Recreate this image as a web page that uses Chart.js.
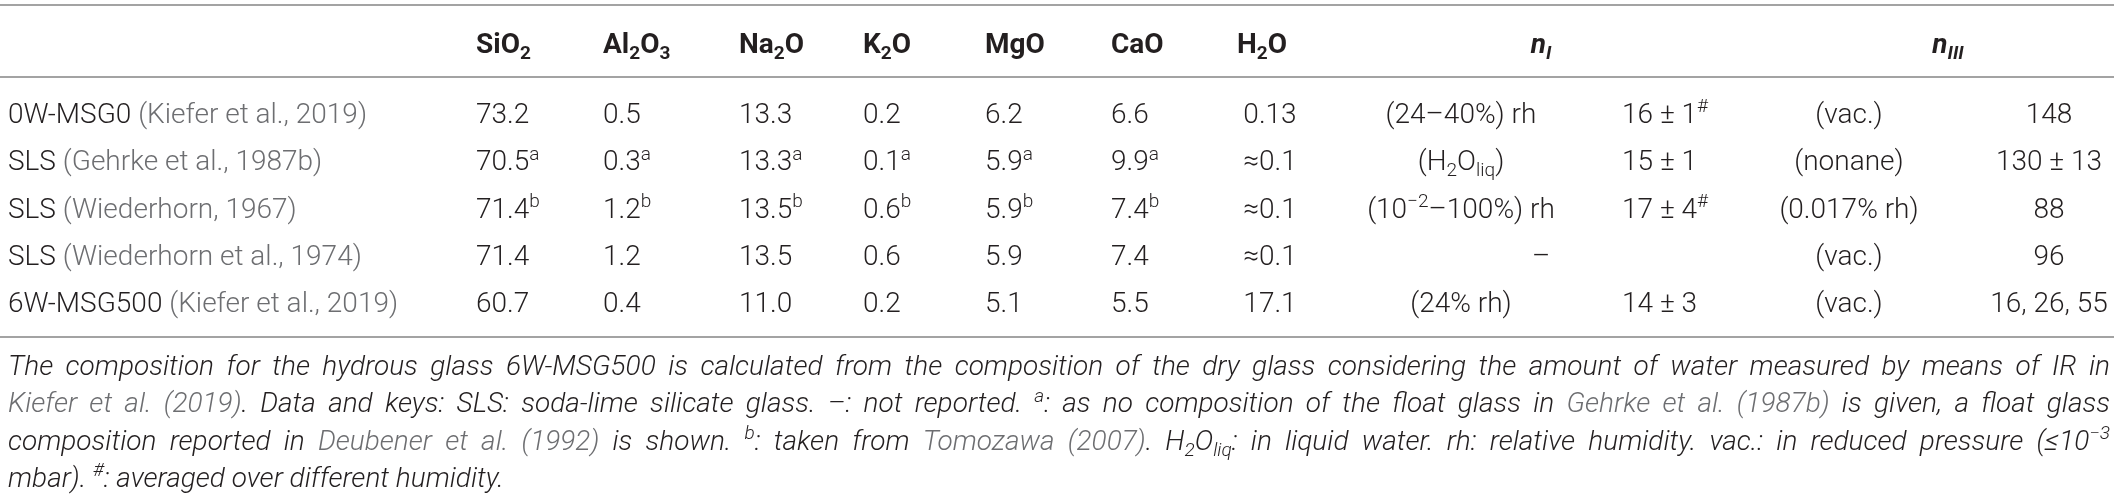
<!DOCTYPE html>
<html>
<head>
<meta charset="utf-8">
<script src="https://cdn.jsdelivr.net/npm/chart.js@4.4.1/dist/chart.umd.min.js"></script>
<style>
  html, body { margin: 0; padding: 0; background: #ffffff; }
  #wrap { width: 2118px; height: 498px; }
</style>
</head>
<body>
<div id="wrap"><canvas id="glassTable" width="2118" height="498"></canvas></div>
<script>
// Datos de la tabla (markup: _{sub}, ^{sup}, ~texto gris~)
const glassNames = ['0W-MSG0', 'SLS', 'SLS', 'SLS', '6W-MSG500'];
const glassRefs = ['Kiefer et al., 2019', 'Gehrke et al., 1987b', 'Wiederhorn, 1967', 'Wiederhorn et al., 1974', 'Kiefer et al., 2019'];

const oxideHeaders = ['SiO_{2}', 'Al_{2}O_{3}', 'Na_{2}O', 'K_{2}O', 'MgO', 'CaO'];
const SiO2 = [73.2, 70.5, 71.4, 71.4, 60.7];
const Al2O3 = [0.5, 0.3, 1.2, 1.2, 0.4];
const Na2O = [13.3, 13.3, 13.5, 13.5, 11.0];
const K2O = [0.2, 0.1, 0.6, 0.6, 0.2];
const MgO = [6.2, 5.9, 5.9, 5.9, 5.1];
const CaO = [6.6, 9.9, 7.4, 7.4, 5.5];
const oxideNotes = ['', 'a', 'b', '', ''];

const waterHeader = 'H_{2}O';
const H2O = ['0.13', '≈0.1', '≈0.1', '≈0.1', '17.1'];

const nIHeader = 'n_{I}';
const nIConditions = ['(24–40%) rh', '(H_{2}O_{liq})', '(10^{−2}–100%) rh', '', '(24% rh)'];
const nIValues = ['16 ± 1^{#}', '15 ± 1', '17 ± 4^{#}', '–', '14 ± 3'];

const nIIIHeader = 'n_{III}';
const nIIIConditions = ['(vac.)', '(nonane)', '(0.017% rh)', '(vac.)', '(vac.)'];
const nIIIValues = ['148', '130 ± 13', '88', '96', '16, 26, 55'];

const footnoteLines = [
    'The composition for the hydrous glass 6W-MSG500 is calculated from the composition of the dry glass considering the amount of water measured by means of IR in',
    '~Kiefer et al. (2019)~. Data and keys: SLS: soda-lime silicate glass. –: not reported. ^{a}: as no composition of the float glass in ~Gehrke et al. (1987b)~ is given, a float glass',
    'composition reported in ~Deubener et al. (1992)~ is shown. ^{b}: taken from ~Tomozawa (2007)~. H_{2}O_{liq}: in liquid water. rh: relative humidity. vac.: in reduced pressure (≤10^{−3}',
    'mbar). ^{#}: averaged over different humidity.'
];

// Posiciones de columnas (coordenadas del eje x)
const colX = {
    label: 8, SiO2: 476, Al2O3: 603, Na2O: 739, K2O: 863, MgO: 985, CaO: 1111,
    H2O: 1270, H2OHead: 1262, nICond: 1461, nIVal: 1622, nIHead: 1541,
    nIIICond: 1849, nIIIVal: 2049, nIIIHead: 1948
};

const FAMILY = '"Roboto", "Liberation Sans", sans-serif';
const SIZE = 28;
const DARK = '#231f20';
const GRAY = '#6d6e71';
const RULE = '#a3a3a3';

function parseRich(str) {
    const runs = [];
    let gray = false;
    let buf = '';
    let i = 0;
    const flush = () => {
        if (buf) runs.push({ text: buf, mode: 'base', gray: gray });
        buf = '';
    };
    while (i < str.length) {
        const c = str[i];
        if (c === '~') { flush(); gray = !gray; i++; continue; }
        if ((c === '_' || c === '^') && str[i + 1] === '{') {
            flush();
            const end = str.indexOf('}', i);
            runs.push({ text: str.slice(i + 2, end), mode: c === '_' ? 'sub' : 'sup', gray: gray });
            i = end + 1;
            continue;
        }
        buf += c;
        i++;
    }
    flush();
    return runs;
}

function runFont(run, opts) {
    const size = run.mode === 'base' ? opts.size : opts.size * 0.68;
    return (opts.italic ? 'italic ' : '') + opts.weight + ' ' + size.toFixed(2) + 'px ' + FAMILY;
}

// Dibuja texto enriquecido; y es la linea base
function drawRich(ctx, str, x, y, opts) {
    const runs = parseRich(str);
    let total = 0;
    let spaces = 0;
    runs.forEach(run => {
        ctx.font = runFont(run, opts);
        run.width = ctx.measureText(run.text).width;
        run.spaceWidth = ctx.measureText(' ').width;
        total += run.width;
        if (run.mode === 'base') spaces += (run.text.match(/ /g) || []).length;
    });
    let extra = 0;
    if (opts.justify && spaces > 0) {
        extra = (opts.justify - total) / spaces;
        total = opts.justify;
    }
    let cx = x;
    if (opts.align === 'center') cx = x - total / 2;
    else if (opts.align === 'right') cx = x - total;
    ctx.textAlign = 'left';
    ctx.textBaseline = 'alphabetic';
    runs.forEach(run => {
        ctx.font = runFont(run, opts);
        ctx.fillStyle = run.gray ? GRAY : DARK;
        let dy = 0;
        if (run.mode === 'sub') dy = opts.size * 0.22;
        if (run.mode === 'sup') dy = -opts.size * 0.38;
        if (extra && run.mode === 'base') {
            const pieces = run.text.split(' ');
            pieces.forEach((p, k) => {
                ctx.fillText(p, cx, y + dy);
                cx += ctx.measureText(p).width;
                if (k < pieces.length - 1) cx += run.spaceWidth + extra;
            });
        } else {
            ctx.fillText(run.text, cx, y + dy);
            cx += run.width;
        }
    });
}

function withNote(values, notes) {
    return values.map((v, i) => v.toFixed(1) + (notes[i] ? '^{' + notes[i] + '}' : ''));
}

function column(key, texts, align, xFor) {
    return {
        label: key,
        data: texts.map((t, i) => ({ x: xFor ? xFor(i) : colX[key], y: i })),
        cellText: texts,
        cellAlign: align,
        pointRadius: 0,
        showLine: false
    };
}

const datasets = [
    column('label', glassNames.map((n, i) => n + ' ~(' + glassRefs[i] + ')~'), 'left'),
    column('SiO2', withNote(SiO2, oxideNotes), 'left'),
    column('Al2O3', withNote(Al2O3, oxideNotes), 'left'),
    column('Na2O', withNote(Na2O, oxideNotes), 'left'),
    column('K2O', withNote(K2O, oxideNotes), 'left'),
    column('MgO', withNote(MgO, oxideNotes), 'left'),
    column('CaO', withNote(CaO, oxideNotes), 'left'),
    column('H2O', H2O, 'center'),
    column('nICond', nIConditions, 'center'),
    column('nIVal', nIValues, i => (nIConditions[i] ? 'left' : 'center'),
        i => (nIConditions[i] ? colX.nIVal : colX.nIHead)),
    column('nIIICond', nIIIConditions, 'center'),
    column('nIIIVal', nIIIValues, 'center')
];

const tablePlugin = {
    id: 'tablePlugin',
    afterDatasetsDraw(chart) {
        const ctx = chart.ctx;
        const area = chart.chartArea;
        const xs = chart.scales.x;
        const body = { size: SIZE, weight: 300, italic: false };

        ctx.save();
        // Lineas horizontales
        ctx.strokeStyle = RULE;
        ctx.lineWidth = 2;
        [area.top - 84, area.top - 12, area.bottom + 11].forEach(y => {
            ctx.beginPath();
            ctx.moveTo(xs.getPixelForValue(0), y);
            ctx.lineTo(xs.getPixelForValue(2114), y);
            ctx.stroke();
        });

        // Encabezados
        const headY = area.top - 46 + SIZE * 0.36;
        const head = { size: SIZE, weight: 700, italic: false, align: 'left' };
        const oxideKeys = ['SiO2', 'Al2O3', 'Na2O', 'K2O', 'MgO', 'CaO'];
        oxideHeaders.forEach((h, i) => drawRich(ctx, h, xs.getPixelForValue(colX[oxideKeys[i]]), headY, head));
        drawRich(ctx, waterHeader, xs.getPixelForValue(colX.H2OHead), headY, Object.assign({}, head, { align: 'center' }));
        const headIt = Object.assign({}, head, { italic: true, align: 'center' });
        drawRich(ctx, nIHeader, xs.getPixelForValue(colX.nIHead), headY, headIt);
        drawRich(ctx, nIIIHeader, xs.getPixelForValue(colX.nIIIHead), headY, headIt);

        // Celdas
        chart.data.datasets.forEach((ds, d) => {
            const meta = chart.getDatasetMeta(d);
            meta.data.forEach((pt, i) => {
                const align = typeof ds.cellAlign === 'function' ? ds.cellAlign(i) : ds.cellAlign;
                drawRich(ctx, ds.cellText[i], pt.x, pt.y + SIZE * 0.36, Object.assign({}, body, { align: align }));
            });
        });

        // Nota al pie
        const foot = { size: SIZE, weight: 300, italic: true, align: 'left' };
        footnoteLines.forEach((line, k) => {
            const y = area.bottom + 39 + k * 37.3 + SIZE * 0.36;
            const opts = Object.assign({}, foot);
            if (k < footnoteLines.length - 1) opts.justify = xs.getPixelForValue(2110) - xs.getPixelForValue(8);
            drawRich(ctx, line, xs.getPixelForValue(8), y, opts);
        });
        ctx.restore();
    }
};

const tableChart = new Chart(document.getElementById('glassTable').getContext('2d'), {
    type: 'scatter',
    data: { datasets: datasets },
    options: {
        responsive: false,
        animation: false,
        devicePixelRatio: 1,
        events: [],
        layout: { padding: { top: 89, bottom: 172, left: 0, right: 0 } },
        scales: {
            x: { type: 'linear', min: 0, max: 2118, display: false },
            y: { type: 'linear', min: -0.5, max: 4.5, reverse: true, display: false }
        },
        plugins: {
            legend: { display: false },
            tooltip: { enabled: false }
        }
    },
    plugins: [tablePlugin]
});
</script>
</body>
</html>
